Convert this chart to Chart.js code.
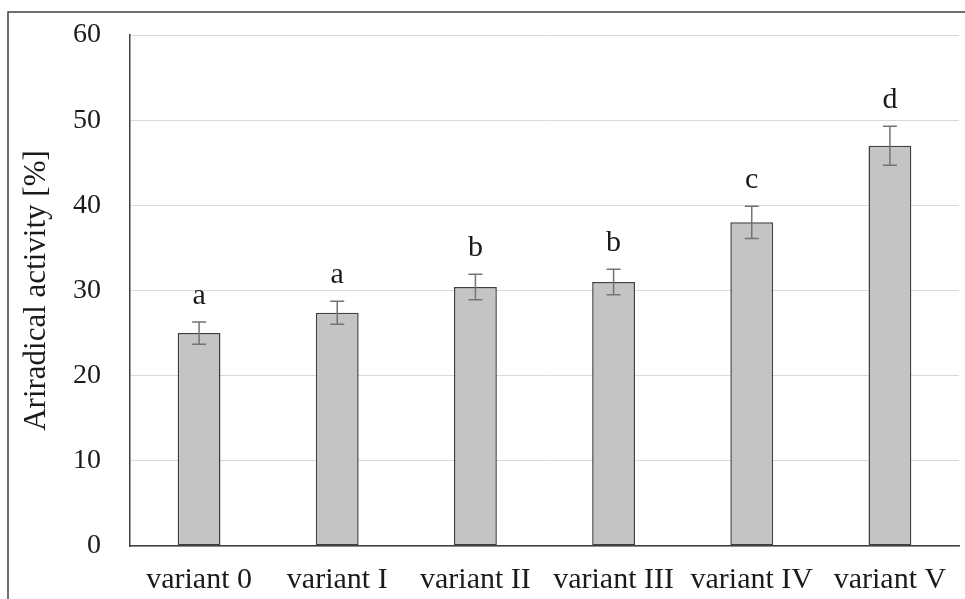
<!DOCTYPE html>
<html>
<head>
<meta charset="utf-8">
<script src="https://cdn.jsdelivr.net/npm/chart.js@4.4.0/dist/chart.umd.min.js"></script>
<style>
  html, body { margin: 0; padding: 0; background: #fff; }
  #wrap { width: 965px; height: 599px; position: relative; }
</style>
</head>
<body>
<div id="wrap"><canvas id="c"></canvas></div>
<script>
// values
const variants = ['variant 0', 'variant I', 'variant II', 'variant III', 'variant IV', 'variant V'];
const activity = [25.0, 27.4, 30.4, 31.0, 38.0, 47.0];
const sdev     = [1.3, 1.35, 1.5, 1.5, 1.9, 2.3];
const groups   = ['a', 'a', 'b', 'b', 'c', 'd'];
const yTicks   = [0, 10, 20, 30, 40, 50, 60];

const SERIF = '"Liberation Serif", "Times New Roman", serif';

// error bars + significance letters, drawn over the bars
const errorBars = {
  id: 'errorBars',
  afterDatasetsDraw(chart) {
    const { ctx } = chart;
    const y = chart.scales.y;
    const meta = chart.getDatasetMeta(0);
    ctx.save();
    meta.data.forEach((bar, i) => {
      const hi = y.getPixelForValue(activity[i] + sdev[i]);
      const lo = y.getPixelForValue(activity[i] - sdev[i]);
      ctx.strokeStyle = '#737373';
      ctx.lineWidth = 1.5;
      ctx.beginPath();
      ctx.moveTo(bar.x, hi); ctx.lineTo(bar.x, lo);
      ctx.moveTo(bar.x - 7, hi); ctx.lineTo(bar.x + 7, hi);
      ctx.moveTo(bar.x - 7, lo); ctx.lineTo(bar.x + 7, lo);
      ctx.stroke();

      ctx.fillStyle = '#1a1a1a';
      ctx.font = '30px ' + SERIF;
      ctx.textAlign = 'center';
      ctx.textBaseline = 'alphabetic';
      ctx.fillText(groups[i], bar.x, hi - 18);
    });
    ctx.restore();
  },
};

// outer frame, cut off at the right and bottom like the original
const frame = {
  id: 'frame',
  afterDraw(chart) {
    const { ctx } = chart;
    ctx.save();
    ctx.strokeStyle = '#404040';
    ctx.lineWidth = 1.5;
    ctx.strokeRect(8, 12, 2000, 2000);
    ctx.restore();
  },
};

new Chart(document.getElementById('c'), {
  type: 'bar',
  data: {
    labels: variants,
    datasets: [{
      data: activity,
      backgroundColor: '#c4c4c4',
      borderColor: '#404040',
      borderWidth: 1.5,
      borderSkipped: false,
      categoryPercentage: 1,
      barPercentage: 0.31,
    }],
  },
  options: {
    responsive: true,
    maintainAspectRatio: false,
    animation: false,
    layout: { padding: { left: 0, top: 35, right: 6, bottom: 0 } },
    plugins: { legend: { display: false }, tooltip: { enabled: false } },
    scales: {
      x: {
        grid: { display: false, drawTicks: false },
        border: { color: '#404040', width: 1.5 },
        ticks: { color: '#1a1a1a', font: { family: SERIF, size: 30 }, padding: 16, maxRotation: 0, autoSkip: false },
        afterFit: s => { s.height = 53; },
      },
      y: {
        min: 0,
        max: 60,
        afterBuildTicks: s => { s.ticks = yTicks.map(v => ({ value: v })); },
        grid: { color: '#d9d9d9', lineWidth: 1, drawTicks: false },
        border: { color: '#404040', width: 1.5 },
        ticks: { color: '#1a1a1a', font: { family: SERIF, size: 28, lineHeight: 0.4 }, padding: 29 },
        title: {
          display: true,
          text: 'Ariradical activity [%]',
          color: '#1a1a1a',
          font: { family: SERIF, size: 31 },
          padding: { top: 18, bottom: 0 },
        },
        afterFit: s => { s.width = 130; },
      },
    },
  },
  plugins: [errorBars, frame],
});
</script>
</body>
</html>
